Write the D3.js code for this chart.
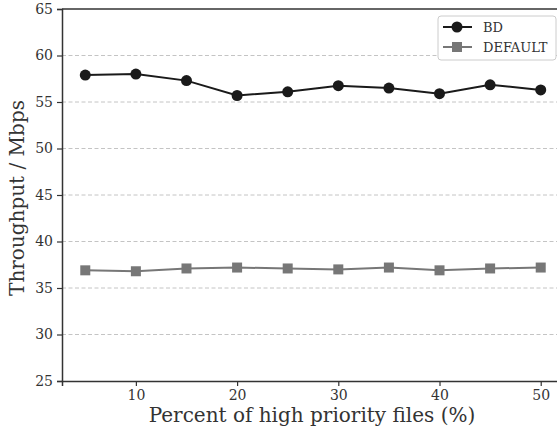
<!DOCTYPE html>
<html>
<head>
<meta charset="utf-8">
<script src="https://cdn.jsdelivr.net/npm/d3@7"></script>
<style>
  body { margin: 0; background: #fff; }
  text { font-family: "DejaVu Serif", serif; fill: #333; }
</style>
</head>
<body>
<div id="chart"></div>
<script>
var svgWidth = 557;
var svgHeight = 432;
var margin = { top: 9, left: 62, bottom: 51 };

// data
var percents = [5, 10, 15, 20, 25, 30, 35, 40, 45, 50];
var bdValues = [57.9, 58.0, 57.3, 55.7, 56.1, 56.75, 56.5, 55.9, 56.85, 56.3];
var defaultValues = [36.9, 36.8, 37.1, 37.2, 37.1, 37.0, 37.2, 36.9, 37.1, 37.2];
var xTicks = [10, 20, 30, 40, 50];
var yTicks = [25, 30, 35, 40, 45, 50, 55, 60, 65];

var plotBottom = svgHeight - margin.bottom;

var svg = d3.select("#chart").append("svg")
    .attr("width", svgWidth)
    .attr("height", svgHeight);

var x = d3.scaleLinear().domain([2.7, 52.3]).range([margin.left, 564]);
var y = d3.scaleLinear().domain([25, 65]).range([plotBottom, margin.top]);

// grid
svg.append("g").selectAll("line")
    .data(yTicks.filter(d => d > 25 && d < 65))
    .enter().append("line")
    .attr("x1", margin.left).attr("x2", 564)
    .attr("y1", d => y(d)).attr("y2", d => y(d))
    .attr("stroke", "#c4c4c4").attr("stroke-width", 1)
    .attr("stroke-dasharray", "4,2.5");

// top spine
svg.append("line")
    .attr("x1", margin.left).attr("x2", 564)
    .attr("y1", y(65)).attr("y2", y(65))
    .attr("stroke", "#666").attr("stroke-width", 2);

// axes
var yAxis = svg.append("g")
    .attr("transform", `translate(${margin.left},0)`)
    .call(d3.axisLeft(y).tickValues(yTicks).tickSize(5).tickPadding(4));
var xAxis = svg.append("g")
    .attr("transform", `translate(0,${plotBottom})`)
    .call(d3.axisBottom(x).tickValues(xTicks).tickSize(5).tickPadding(4));

[xAxis, yAxis].forEach(function(a) {
    a.select(".domain").attr("stroke", "#333").attr("stroke-width", 1.5);
    a.selectAll(".tick line").attr("stroke", "#333").attr("stroke-width", 1.2);
    a.selectAll(".tick text").style("font-size", "14px").attr("fill", "#333");
});

// series
var series = [
    { name: "BD", values: bdValues, color: "#1a1a1a", shape: "circle" },
    { name: "DEFAULT", values: defaultValues, color: "#777", shape: "square" }
];

var line = d3.line().x(d => x(d[0])).y(d => y(d[1]));

series.forEach(function(s) {
    var pts = percents.map((p, i) => [p, s.values[i]]);
    svg.append("path")
        .datum(pts)
        .attr("d", line)
        .attr("fill", "none")
        .attr("stroke", s.color)
        .attr("stroke-width", 2);
    if (s.shape === "circle") {
        svg.append("g").selectAll("circle").data(pts).enter().append("circle")
            .attr("cx", d => x(d[0])).attr("cy", d => y(d[1]))
            .attr("r", 5.5).attr("fill", s.color);
    } else {
        svg.append("g").selectAll("rect").data(pts).enter().append("rect")
            .attr("x", d => x(d[0]) - 5).attr("y", d => y(d[1]) - 5)
            .attr("width", 10).attr("height", 10).attr("fill", s.color);
    }
});

// legend
var legend = svg.append("g").attr("transform", "translate(438,16)");
legend.append("rect")
    .attr("width", 118).attr("height", 44).attr("rx", 3)
    .attr("fill", "#fff").attr("stroke", "#ccc");
series.forEach(function(s, i) {
    var ly = 11 + i * 20;
    legend.append("line")
        .attr("x1", 5).attr("x2", 34).attr("y1", ly).attr("y2", ly)
        .attr("stroke", s.color).attr("stroke-width", 2);
    if (s.shape === "circle") {
        legend.append("circle").attr("cx", 19).attr("cy", ly).attr("r", 5.5).attr("fill", s.color);
    } else {
        legend.append("rect").attr("x", 14).attr("y", ly - 5).attr("width", 10).attr("height", 10).attr("fill", s.color);
    }
    legend.append("text")
        .attr("x", 45).attr("y", ly + 5)
        .style("font-size", "13px")
        .text(s.name);
});

// axis labels
svg.append("text")
    .attr("x", 312).attr("y", 422)
    .attr("text-anchor", "middle")
    .style("font-size", "20px")
    .text("Percent of high priority files (%)");

svg.append("text")
    .attr("transform", "translate(24,198) rotate(-90)")
    .attr("text-anchor", "middle")
    .style("font-size", "20px")
    .text("Throughput / Mbps");
</script>
</body>
</html>
